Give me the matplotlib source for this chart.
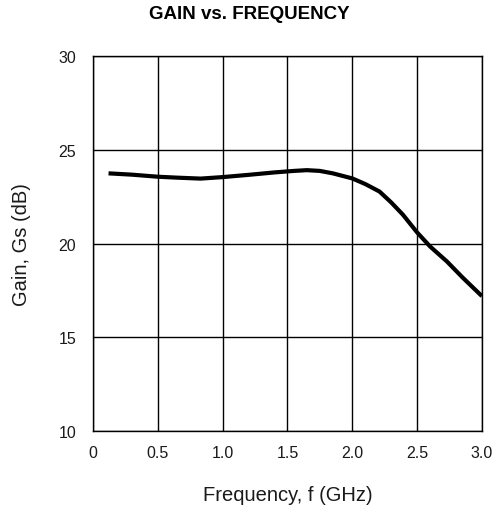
import matplotlib.pyplot as plt

plt.rcParams['font.family'] = ['Liberation Sans', 'DejaVu Sans']

freq = [0.12, 0.3, 0.5, 0.65, 0.83, 1.0, 1.2, 1.4, 1.55, 1.65, 1.75, 1.85, 2.0,
        2.1, 2.21, 2.3, 2.39, 2.5, 2.6, 2.73, 2.85, 3.0]
gain = [23.75, 23.68, 23.57, 23.52, 23.47, 23.55, 23.67, 23.8, 23.88, 23.92, 23.88,
        23.75, 23.48, 23.18, 22.78, 22.2, 21.55, 20.6, 19.85, 19.05, 18.2, 17.2]

xticks = [0, 0.5, 1.0, 1.5, 2.0, 2.5, 3.0]
xtick_labels = ['0', '0.5', '1.0', '1.5', '2.0', '2.5', '3.0']
yticks = [10, 15, 20, 25, 30]

fig = plt.figure(figsize=(4.98, 5.06), dpi=100)
ax = fig.add_axes([0.1867, 0.146, 0.781, 0.741])

ax.plot(freq, gain, color='black', linewidth=3, solid_capstyle='butt')

ax.set_xlim(0, 3.0)
ax.set_ylim(10, 30)
ax.set_xticks(xticks)
ax.set_xticklabels(xtick_labels)
ax.set_yticks(yticks)
ax.grid(True, color='black', linewidth=1)
ax.tick_params(length=0, labelsize=11.5, labelcolor='#1a1a1a')
ax.tick_params(axis='x', pad=10)
ax.tick_params(axis='y', pad=12)
for s in ax.spines.values():
    s.set_linewidth(1)

ax.set_xlabel('Frequency, f (GHz)', fontsize=14.5, labelpad=18, color='#1a1a1a')
ax.set_ylabel('Gain, Gs (dB)', fontsize=14.5, labelpad=20, color='#1a1a1a')
fig.text(0.5, 0.972, 'GAIN vs. FREQUENCY', ha='center', va='center',
         fontsize=13.5, fontweight='bold')

fig.savefig('out.png', dpi=100)
